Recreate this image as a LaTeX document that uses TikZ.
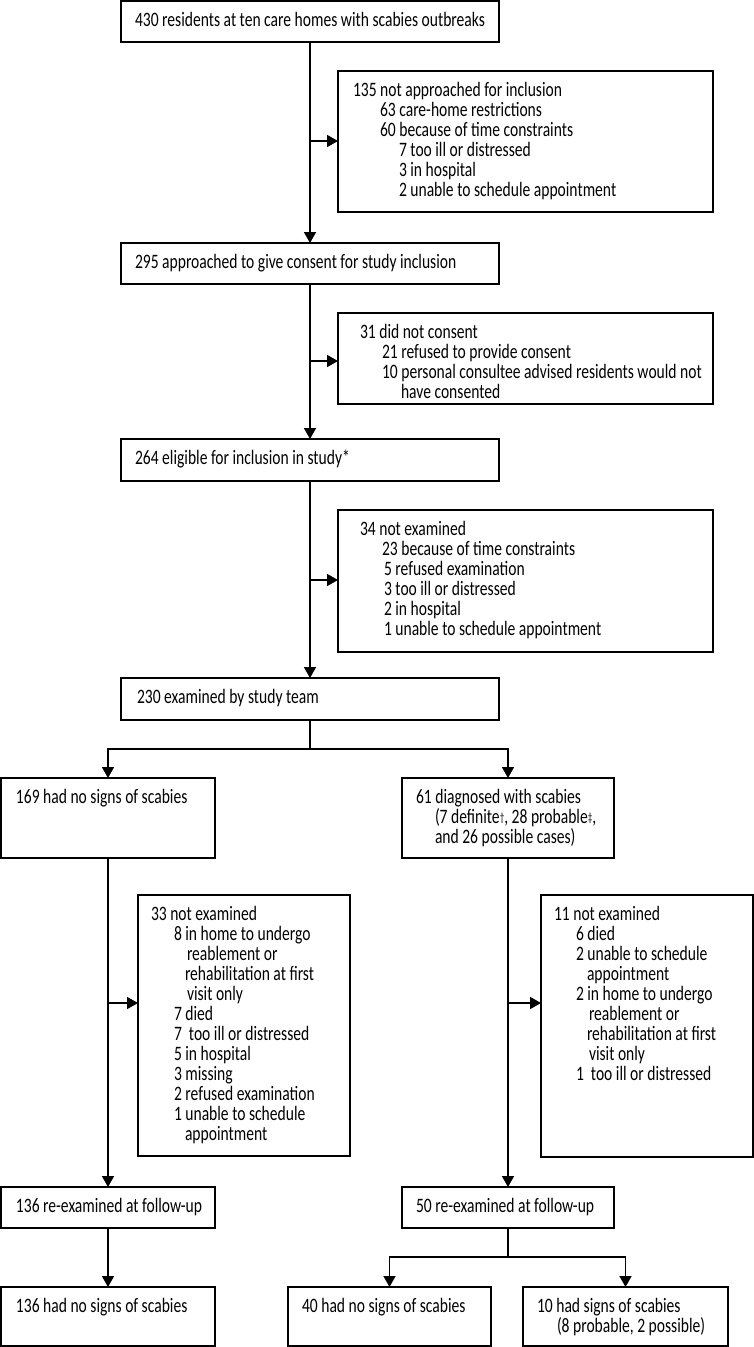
\documentclass[tikz,border=0pt]{standalone}
\usepackage{fontspec}
\setmainfont{Carlito}[FakeStretch=0.76]
\usetikzlibrary{arrows.meta}
\newcommand\rowx[2]{\hspace*{#1pt}\rule[-4pt]{0pt}{20pt}\mbox{#2}\par}
\newcommand\flowbox[7]{%
  \node[boxst, minimum width={(#4)-(#2)}, minimum height={(#5)-(#3)}] (#1) at ({((#2)+(#4))/2},{((#3)+(#5))/2})
  {\begin{minipage}[c][\dimexpr #5pt-#3pt\relax][t]{\dimexpr #4pt-#2pt\relax}\setlength\parindent{0pt}\setlength\parskip{0pt}\setlength\lineskiplimit{-100pt}\setlength\baselineskip{20pt}\vspace*{9pt}#7\end{minipage}};}
\newcommand\dg[1]{{\fontsize{12}{12}\selectfont\raisebox{2pt}{#1}}}
\begin{document}
\begin{tikzpicture}[x=1pt,y=-1pt,
  boxst/.style={draw=black, line width=1.6pt, inner sep=0pt, outer sep=0pt, font=\fontsize{20.5}{20}\selectfont},
  arr/.style={line width=1.6pt, -{Triangle[length=11pt,width=12pt]}},
  lnk/.style={line width=1.6pt}]
\fill[white] (0,0) rectangle (754,1347);
\useasboundingbox (0,0) rectangle (754,1347);

\flowbox{A}{121}{1}{499}{42}{}{\rowx{14}{430 residents at ten care homes with scabies outbreaks}}
\flowbox{s1}{338}{71}{713}{212}{}{%
 \rowx{15}{135 not approached for inclusion}
 \rowx{42}{63 care-home restrictions}
 \rowx{42}{60 because of time constraints}
 \rowx{61}{7 too ill or distressed}
 \rowx{61}{3 in hospital}
 \rowx{61}{2 unable to schedule appointment}}
\flowbox{B}{121}{243}{499}{284}{}{\rowx{14}{295 approached to give consent for study inclusion}}
\flowbox{s2}{338}{313}{713}{404}{}{%
 \rowx{22}{31 did not consent}
 \rowx{44}{21 refused to provide consent}
 \rowx{44}{10 personal consultee advised residents would not}
 \rowx{63}{have consented}}
\flowbox{C}{121}{439}{499}{481}{}{\rowx{14}{264 eligible for inclusion in study*}}
\flowbox{s3}{338}{510}{713}{652}{}{%
 \rowx{22}{34 not examined}
 \rowx{44}{23 because of time constraints}
 \rowx{46}{5 refused examination}
 \rowx{46}{3 too ill or distressed}
 \rowx{46}{2 in hospital}
 \rowx{46}{1 unable to schedule appointment}}
\flowbox{D}{121}{678}{499}{720}{}{\rowx{16}{230 examined by study team}}
\flowbox{E}{1}{778}{215}{858}{}{\rowx{15}{169 had no signs of scabies}}
\flowbox{F}{402}{778}{614}{858}{}{%
 \rowx{14}{61 diagnosed with scabies}
 \rowx{33}{(7 definite\dg{†}, 28 probable\dg{‡},}
 \rowx{33}{and 26 possible cases)}}
\flowbox{G}{138}{895}{350}{1156}{}{%
 \rowx{13}{33 not examined}
 \rowx{36}{8 in home to undergo}
 \rowx{49}{reablement or}
 \rowx{47}{rehabilitation at first}
 \rowx{49}{visit only}
 \rowx{36}{7 died}
 \rowx{36}{7\ \ too ill or distressed}
 \rowx{36}{5 in hospital}
 \rowx{36}{3 missing}
 \rowx{36}{2 refused examination}
 \rowx{36}{1 unable to schedule}
 \rowx{47}{appointment}}
\flowbox{H}{541}{895}{753}{1157}{}{%
 \rowx{13}{11 not examined}
 \rowx{35}{6 died}
 \rowx{35}{2 unable to schedule}
 \rowx{46}{appointment}
 \rowx{35}{2 in home to undergo}
 \rowx{48}{reablement or}
 \rowx{46}{rehabilitation at first}
 \rowx{48}{visit only}
 \rowx{35}{1\ \ too ill or distressed}}
\flowbox{I}{1}{1187}{215}{1228}{}{\rowx{15}{136 re-examined at follow-up}}
\flowbox{J}{402}{1187}{614}{1228}{}{\rowx{14}{50 re-examined at follow-up}}
\flowbox{K}{1}{1287}{215}{1346}{}{\rowx{15}{136 had no signs of scabies}}
\flowbox{L}{288}{1287}{491}{1346}{}{\rowx{14}{40 had no signs of scabies}}
\flowbox{M}{523}{1287}{728}{1346}{}{%
 \rowx{14}{10 had signs of scabies}
 \rowx{34}{(8 probable, 2 possible)}}

\draw[arr] (A) -- (B);
\coordinate (j1) at (310,141);
\draw[arr] (j1) -- (j1 -| s1.west);
\draw[arr] (B) -- (C);
\coordinate (j2) at (310,361);
\draw[arr] (j2) -- (j2 -| s2.west);
\draw[arr] (C) -- (D);
\coordinate (j3) at (310,580);
\draw[arr] (j3) -- (j3 -| s3.west);
\coordinate (d1) at (310,749);
\draw[lnk] (D.south) -- (d1);
\draw[arr] (d1) -| (E.north);
\draw[arr] (d1) -| (F.north);
\draw[arr] (E) -- (I);
\coordinate (j4) at (108,1003);
\draw[arr] (j4) -- (j4 -| G.west);
\draw[arr] (F) -- (J);
\coordinate (j5) at (508,1003);
\draw[arr] (j5) -- (j5 -| H.west);
\draw[arr] (I) -- (K);
\coordinate (b2) at (508,1257);
\draw[lnk] (J.south) -- (b2);
\draw[arr] (b2) -| (L.north);
\draw[arr] (b2) -| (M.north);
\end{tikzpicture}
\end{document}
